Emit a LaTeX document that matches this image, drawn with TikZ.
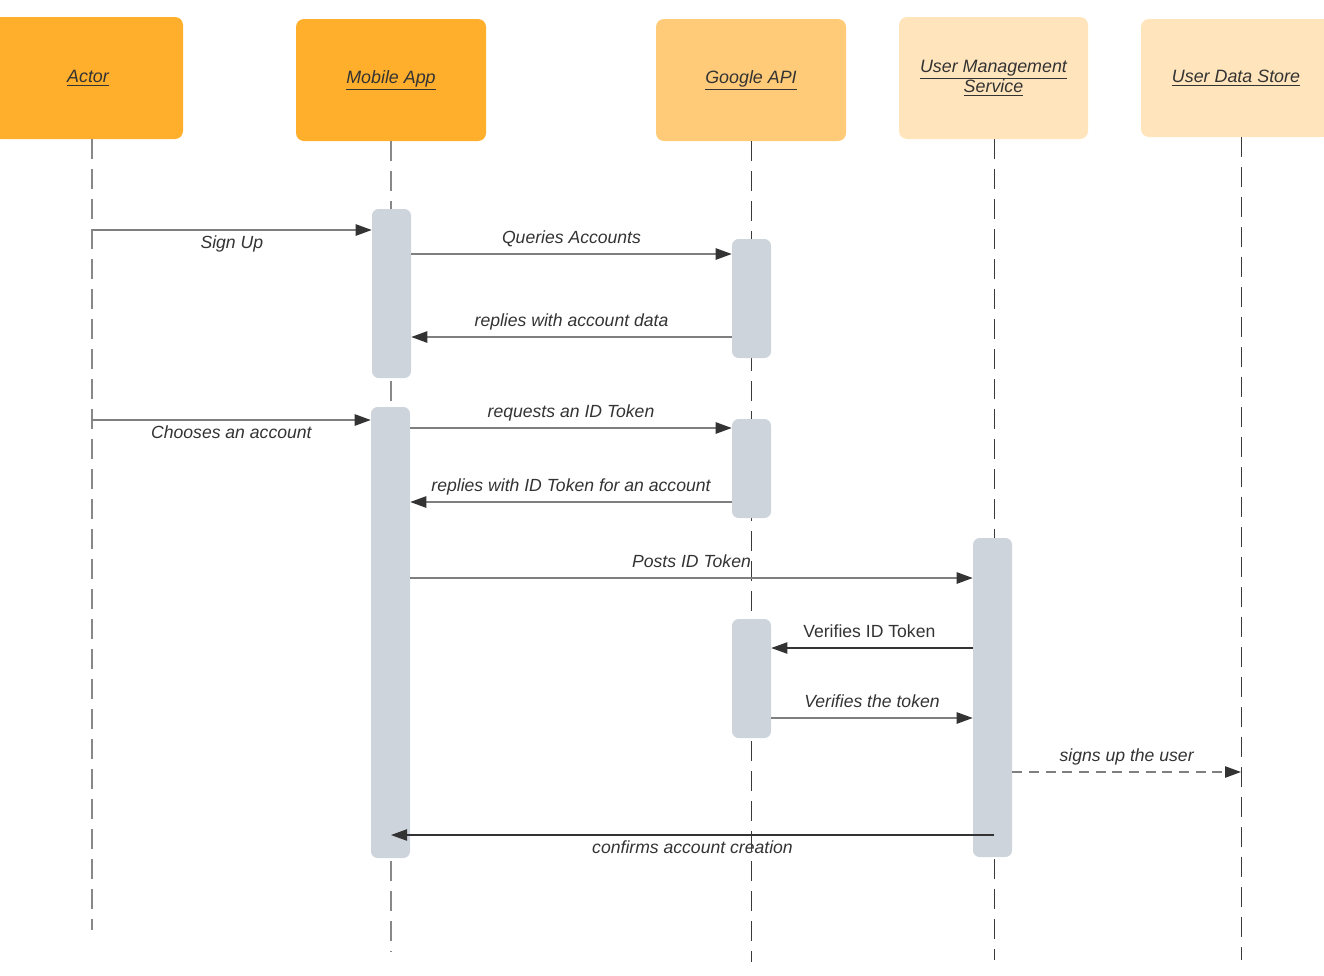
\documentclass[tikz,border=0pt]{standalone}
\usepackage{fontspec}
\setmainfont{Liberation Sans}
\usetikzlibrary{arrows.meta}
\definecolor{orA}{HTML}{FFAF2B}
\definecolor{orB}{HTML}{FFCB78}
\definecolor{orC}{HTML}{FFE4BC}
\definecolor{actc}{HTML}{CED4DC}
\definecolor{txt}{HTML}{333333}
\definecolor{linec}{HTML}{7F7F7F}
\definecolor{lifeA}{HTML}{888888}
\definecolor{lifeB}{HTML}{3A3A3A}
\begin{document}
\begin{tikzpicture}[x=0.75pt,y=-0.75pt,
  head/.style={fill=#1, draw=none, rounded corners=6pt, minimum width=142.5pt,
    minimum height=91.5pt, inner sep=0pt, text=txt, align=center,
    font=\fontsize{13.4}{16}\selectfont\itshape},
  actbox/.style={fill=actc, draw=none, rounded corners=5pt, minimum width=29.25pt,
    inner sep=0pt, minimum height=#1},
  life/.style={draw=#1, line width=1.1pt, dash pattern=on 15pt off 7.5pt},
  msg/.style={draw=linec, line width=1.1pt,
    -{Triangle[length=12pt,width=8.5pt,color=txt]}},
  lbl/.style={text=txt, inner sep=0pt, text height=9.5pt, text depth=2.8pt,
    font=\fontsize{13.2}{16}\selectfont\itshape},
  up/.style={midway, yshift=11.5pt},
  down/.style={midway, yshift=-10.5pt}
]
\useasboundingbox (0,0) rectangle (1324,975);

% headers
\node[head=orA, minimum width=142.5pt] (h1) at (88,78) {\underline{Actor}};
\node[head=orA] (h2) at (391,80) {\underline{Mobile App}};
\node[head=orB] (h3) at (751,80) {\underline{Google API}};
\node[head=orC, minimum width=141.75pt] (h4) at (993.5,78) {\underline{User Management}\\[-1pt]\underline{Service}};
\node[head=orC, minimum height=88.5pt] (h5) at (1236,78) {\underline{User Data Store}};

% lifeline ends
\coordinate (e1) at (92,930);
\coordinate (e2) at (391,952);
\coordinate (e3) at (751,962);
\coordinate (e4) at (994,960);
\coordinate (e5) at (1241,960);

\draw[life=lifeA] (h1.south -| e1) -- (e1);
\draw[life=lifeA] (h2.south) -- (e2);
\draw[life=lifeB, line width=0.6pt] (h3.south) -- (e3);
\draw[life=lifeB, line width=0.6pt] (h4.south -| e4) -- (e4);
\draw[life=lifeB, line width=0.6pt] (h5.south -| e5) -- (e5);

% activation boxes
\node[actbox=126.75pt] (m1) at (391.5,293.5) {};
\node[actbox=338.25pt] (m2) at (390.5,632.5) {};
\node[actbox=89.25pt] (g1) at (751.5,298.5) {};
\node[actbox=74.25pt] (g2) at (751.5,468.5) {};
\node[actbox=89.25pt] (g3) at (751.5,678.5) {};
\node[actbox=239.25pt] (u1) at (992.5,697.5) {};

% messages
\draw[msg] (e1 |- 0,230) -- (m1.west |- 0,230) node[lbl,down] {Sign Up};
\draw[msg] (m1.east |- 0,254) -- (g1.west |- 0,254) node[lbl,up] {Queries Accounts};
\draw[msg] (g1.west |- 0,337) -- (m1.east |- 0,337) node[lbl,up] {replies with account data};
\draw[msg] (e1 |- 0,420) -- (m2.west |- 0,420) node[lbl,down] {Chooses an account};
\draw[msg] (m2.east |- 0,428) -- (g2.west |- 0,428) node[lbl,up] {requests an ID Token};
\draw[msg] (g2.west |- 0,502) -- (m2.east |- 0,502) node[lbl,up] {replies with ID Token for an account};
\draw[msg] (m2.east |- 0,578) -- (u1.west |- 0,578) node[lbl,up] {Posts ID Token};
\draw[msg,draw=txt,line width=0.8pt] (u1.west |- 0,648) -- (g3.east |- 0,648) node[lbl,up,xshift=-2pt,font=\fontsize{13.2}{16}\selectfont\upshape] {Verifies ID Token};
\draw[msg] (g3.east |- 0,718) -- (u1.west |- 0,718) node[lbl,up] {Verifies the token};
\draw[msg,dash pattern=on 7.5pt off 5pt] (u1.east |- 0,772) -- (e5 |- 0,772) node[lbl,up] {signs up the user};
\draw[msg,draw=txt,line width=0.8pt] (e4 |- 0,835) -- (e2 |- 0,835) node[lbl,down] {confirms account creation};
\end{tikzpicture}
\end{document}
